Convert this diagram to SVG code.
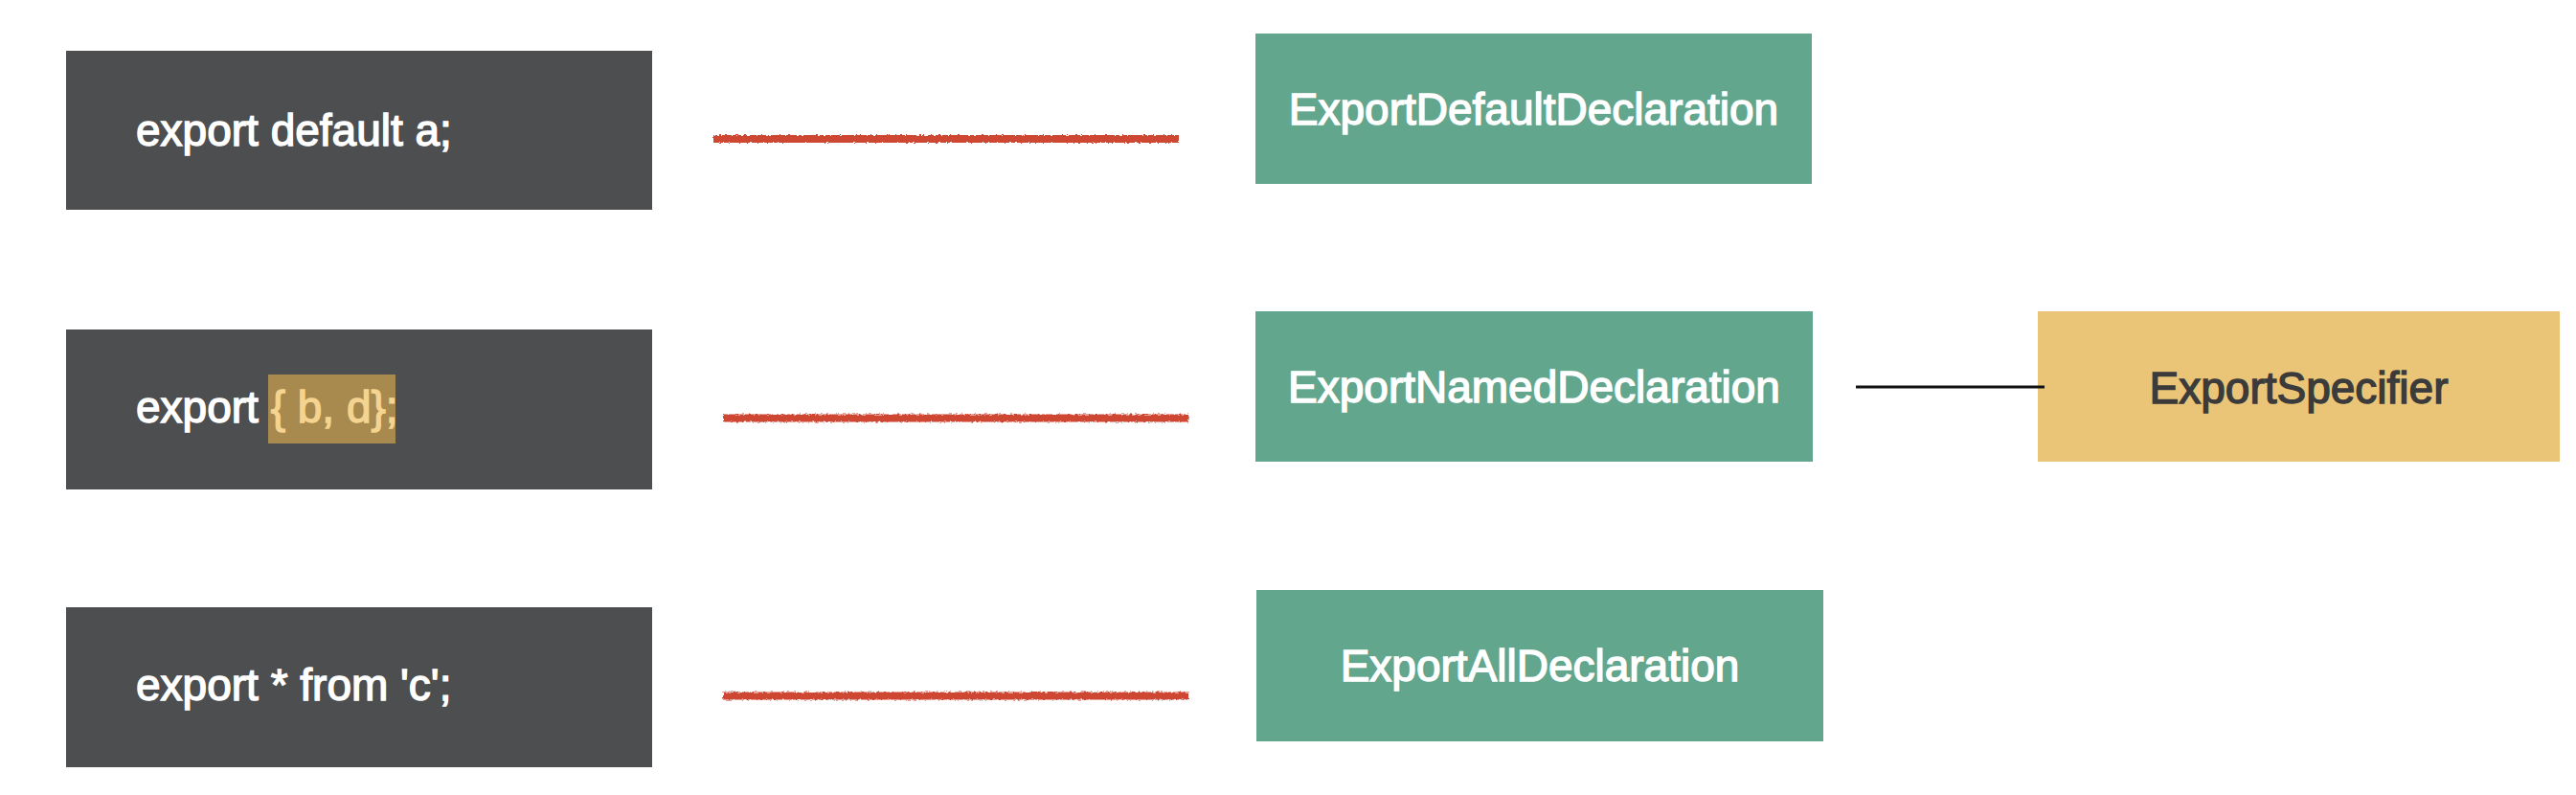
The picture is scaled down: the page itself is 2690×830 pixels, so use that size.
<svg xmlns="http://www.w3.org/2000/svg" width="2690" height="830" viewBox="0 0 2690 830">
<style>
text{font-family:"Liberation Sans",Arial,Helvetica,sans-serif;font-size:46px}
.code{fill:#4d4e4f}
.ast{fill:#63a68e}
.spec{fill:#ebc577}
.lt{fill:#ffffff;stroke:#ffffff;stroke-width:1.4}
.dt{fill:#3b3b3b;stroke:#3b3b3b;stroke-width:1.4}
.hl{fill:#f4d490;stroke:#f4d490;stroke-width:1.4}
.red{stroke:#cd4632;stroke-width:8;fill:none;filter:url(#rough)}
.link{stroke:#111111;stroke-width:3.2}
</style>
<defs>
<filter id="rough" filterUnits="userSpaceOnUse" x="0" y="0" width="2690" height="830">
<feTurbulence type="fractalNoise" baseFrequency="0.35 0.9" numOctaves="2" seed="3" result="n"/>
<feDisplacementMap in="SourceGraphic" in2="n" scale="4" xChannelSelector="R" yChannelSelector="G"/>
</filter>
</defs>
<rect width="2690" height="830" fill="#ffffff"/>
<g id="code-default">
<rect class="code" x="69" y="53" width="612" height="166"/>
<text class="lt" x="142" y="152">export default a;</text>
</g>
<g id="code-named">
<rect class="code" x="69" y="344" width="612" height="167"/>
<rect x="280" y="391" width="133" height="72" fill="#a88a4e"/>
<text class="lt" x="142" y="441">export <tspan class="hl">{ b, d};</tspan></text>
</g>
<g id="code-all">
<rect class="code" x="69" y="634" width="612" height="167"/>
<text class="lt" x="142" y="731">export * from 'c';</text>
</g>
<g id="ast-default">
<rect class="ast" x="1311" y="35" width="581" height="157"/>
<text class="lt" x="1601.5" y="130" text-anchor="middle">ExportDefaultDeclaration</text>
</g>
<g id="ast-named">
<rect class="ast" x="1311" y="325" width="582" height="157"/>
<text class="lt" x="1602" y="420" text-anchor="middle">ExportNamedDeclaration</text>
</g>
<g id="ast-all">
<rect class="ast" x="1312" y="616" width="592" height="158"/>
<text class="lt" x="1608" y="711" text-anchor="middle">ExportAllDeclaration</text>
</g>
<g id="export-specifier">
<rect class="spec" x="2128" y="325" width="545" height="157"/>
<text class="dt" x="2400.5" y="421" text-anchor="middle">ExportSpecifier</text>
</g>
<g id="connectors">
<line class="red" x1="745" y1="145" x2="1231" y2="145"/>
<line class="red" x1="755" y1="436.5" x2="1241" y2="436.5"/>
<line class="red" x1="755" y1="726.5" x2="1241" y2="726.5"/>
<line class="link" x1="1938" y1="404" x2="2135" y2="404"/>
</g>
</svg>
